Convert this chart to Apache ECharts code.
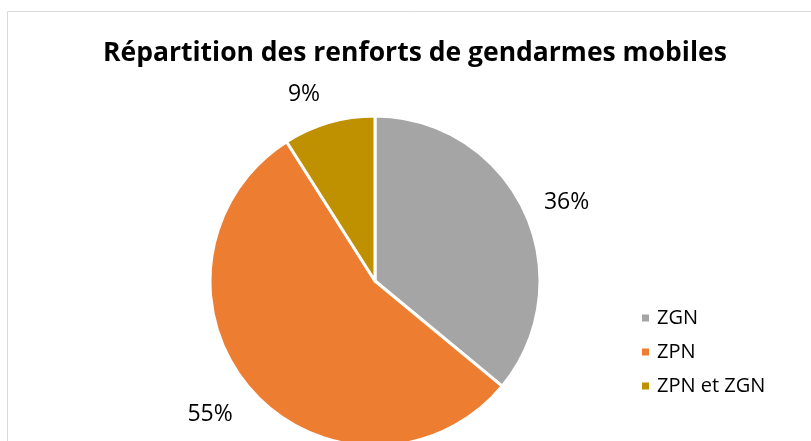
<!DOCTYPE html>
<html><head><meta charset="utf-8">
<script src="https://cdn.jsdelivr.net/npm/echarts@6/dist/echarts.min.js"></script>
<style>html,body{margin:0;padding:0;background:#fff}#c{width:811px;height:441px}</style>
</head><body><div id="c"></div>
<script>
const categories = ['ZGN', 'ZPN', 'ZPN et ZGN'];
const values = [36, 55, 9];
const colors = ['#A5A5A5', '#ED7D31', '#BF9000'];
const titleText = 'Répartition des renforts de gendarmes mobiles';
const labelNudge = [[2, -2], [-3, 15], [0, -15]];

const chart = echarts.init(document.getElementById('c'));
chart.setOption({
  animation: false,
  textStyle: {fontFamily: 'Open Sans'},
  graphic: [{type: 'rect', shape: {x: 7.5, y: 11.5, width: 900, height: 600}, style: {fill: 'none', stroke: '#D9D9D9', lineWidth: 1}}],
  title: {text: titleText, left: 98, top: 35, textStyle: {fontFamily: 'Open Sans', fontWeight: 'bold', fontSize: 26.5, color: '#000'}},
  legend: {orient: 'vertical', left: 635, top: 303, itemWidth: 9, itemHeight: 9, itemGap: 14, icon: 'rect',
    textStyle: {fontSize: 20, color: '#000', fontFamily: 'Open Sans', padding: [0, 0, 0, 2]}, data: categories},
  series: [{
    type: 'pie', center: [375, 281], radius: 165, startAngle: 90, clockwise: true,
    itemStyle: {borderColor: '#fff', borderWidth: 3},
    label: {show: true, position: 'outside', formatter: p => p.value + '%', fontSize: 23, color: '#000', fontFamily: 'Open Sans'},
    labelLine: {show: false, length: 14, length2: 0},
    labelLayout: p => ({dx: labelNudge[p.dataIndex][0], dy: labelNudge[p.dataIndex][1]}),
    data: categories.map((c, i) => ({name: c, value: values[i], itemStyle: {color: colors[i]}}))
  }]
});
</script></body></html>
